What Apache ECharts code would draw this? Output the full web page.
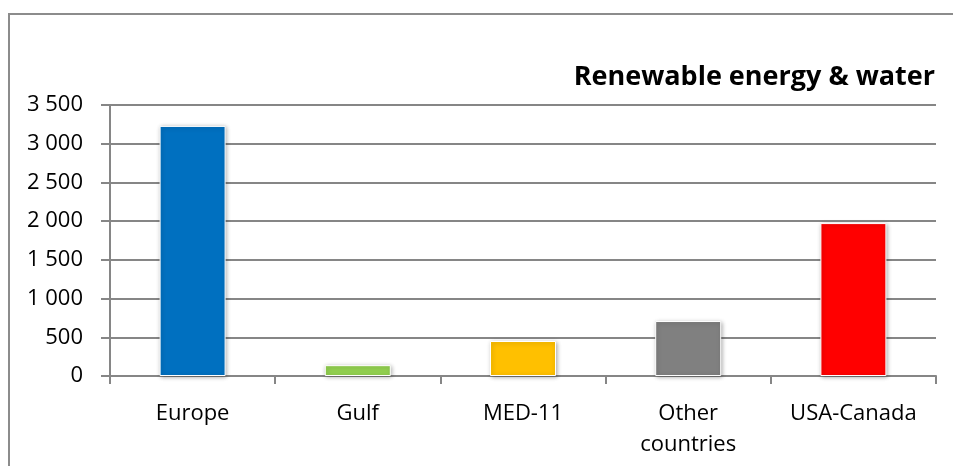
<!DOCTYPE html>
<html>
<head>
<meta charset="utf-8">
<script src="https://cdn.jsdelivr.net/npm/echarts@6/dist/echarts.min.js"></script>
<style>
  html, body { margin: 0; padding: 0; background: #fff; }
  #chart { width: 953px; height: 466px; }
</style>
</head>
<body>
<div id="chart"></div>
<script>
const categories = ['Europe', 'Gulf', 'MED-11', 'Other\ncountries', 'USA-Canada'];
const values = [3230, 140, 452, 710, 1975];
const barColors = ['#0070C0', '#92D050', '#FFC000', '#808080', '#FF0000'];
const titleText = 'Renewable energy & water';

const font = '"Open Sans", sans-serif';

// 3500 -> "3 500"
const fmt = v => {
  const s = String(v);
  return s.length > 3 ? s.slice(0, -3) + ' ' + s.slice(-3) : s;
};

let dom = document.getElementById('chart');
let chart = echarts.init(dom);

const option = {
  animation: false,
  backgroundColor: '#fff',
  graphic: [{
    type: 'rect',
    shape: { x: 9, y: 14, width: 1000, height: 500 },
    style: { fill: 'none', stroke: '#8c8c8c', lineWidth: 2 },
    silent: true
  }],
  title: {
    text: titleText,
    right: 13,
    top: 59,
    textStyle: { fontFamily: font, fontWeight: 'bold', fontSize: 27, color: '#000' }
  },
  grid: { left: 110, right: 17, top: 105, bottom: 90, containLabel: false },
  xAxis: {
    type: 'category',
    data: categories,
    axisLine: { lineStyle: { color: '#868686', width: 2 } },
    axisTick: { show: true, length: 8, lineStyle: { color: '#868686', width: 2 } },
    axisLabel: { color: '#000', fontFamily: font, fontSize: 22, margin: 22, lineHeight: 31 }
  },
  yAxis: {
    type: 'value',
    min: 0,
    max: 3500,
    interval: 500,
    axisLine: { show: true, lineStyle: { color: '#868686', width: 2 } },
    axisTick: { show: true, length: 9, lineStyle: { color: '#868686', width: 2 } },
    splitLine: { lineStyle: { color: '#868686', width: 2 } },
    axisLabel: { color: '#000', fontFamily: font, fontSize: 22, margin: 27, formatter: fmt }
  },
  series: [{
    type: 'bar',
    data: values.map((v, i) => ({ value: v, itemStyle: { color: barColors[i] } })),
    barWidth: 66,
    itemStyle: {
      borderColor: '#fff',
      borderWidth: 1,
      shadowColor: 'rgba(0,0,0,0.3)',
      shadowBlur: 4,
      shadowOffsetX: 1,
      shadowOffsetY: 1
    }
  }]
};

option && chart.setOption(option);

window.addEventListener('resize', function () {
  chart.resize();
});
</script>
</body>
</html>
